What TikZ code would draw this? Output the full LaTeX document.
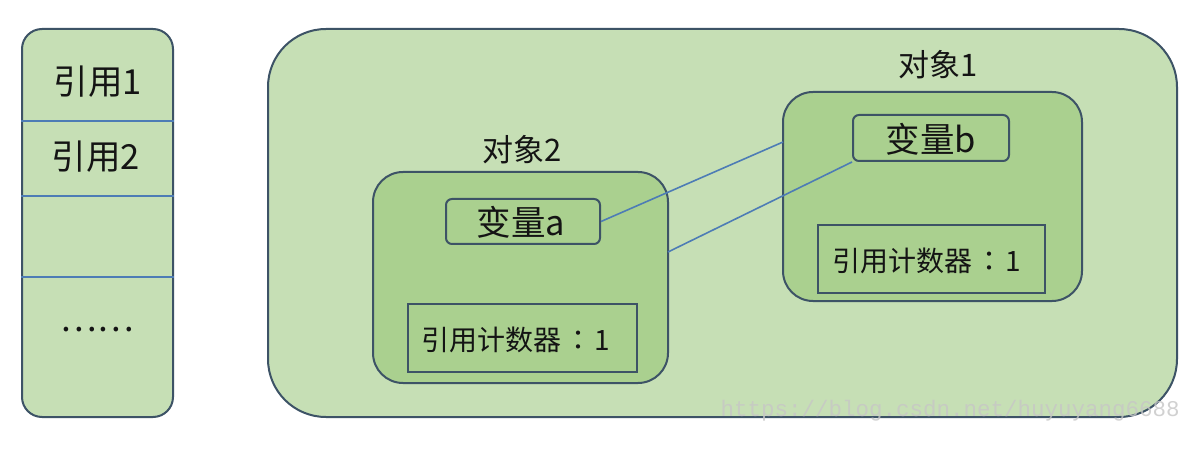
\documentclass[tikz,border=0pt]{standalone}
\usepackage{fontspec}
\setmainfont{Noto Sans CJK SC}
\newfontfamily\cjktc{Noto Sans CJK TC}
\newfontfamily\wmfont{Liberation Mono}
\definecolor{outerfill}{HTML}{C6DFB5}
\definecolor{innerfill}{HTML}{AAD08F}
\definecolor{edgecol}{HTML}{3D5366}
\definecolor{linkcol}{HTML}{4D7CB5}
\definecolor{txtcol}{HTML}{141414}
\newcommand{\cntcolon}{\hspace{2.5pt}{\cjktc：}\hspace{2.5pt}}
\tikzset{
  lightbox/.style={draw=edgecol, line width=2pt, fill=outerfill, inner sep=0pt},
  objbox/.style={draw=edgecol, line width=2pt, fill=innerfill, inner sep=0pt, rounded corners=30pt},
  varbox/.style={draw=edgecol, line width=2pt, fill=innerfill, inner sep=0pt, rounded corners=6pt},
  cntbox/.style={draw=edgecol, line width=2pt, fill=innerfill, inner sep=0pt},
  bigtxt/.style={text=txtcol, font=\fontsize{34.5}{37}\selectfont, inner sep=0pt},
  lbltxt/.style={text=txtcol, font=\fontsize{31}{34}\selectfont, inner sep=0pt},
  cnttxt/.style={text=txtcol, font=\fontsize{28}{30}\selectfont, inner sep=0pt},
  link/.style={draw=linkcol, line width=1.6pt},
  divider/.style={draw=linkcol, line width=1.6pt},
}
\begin{document}
\begin{tikzpicture}[x=1pt,y=-1pt]
\useasboundingbox (0,0) rectangle (1200,449);
\fill[white] (0,0) rectangle (1200,449);
% left stack
\node[lightbox, rounded corners=20pt, minimum width=151pt, minimum height=388pt] (stack) at (97.5,223) {};
\draw[divider] (stack.west |- 0,121) -- (stack.east |- 0,121);
\draw[divider] (stack.west |- 0,196) -- (stack.east |- 0,196);
\draw[divider] (stack.west |- 0,277) -- (stack.east |- 0,277);
\node[bigtxt] (ref1) at (98,82) {引用1};
\node[bigtxt] (ref2) at (96,157) {引用2};
\node[bigtxt] (dots) at (97,330) {……};
% heap
\node[lightbox, rounded corners=58pt, minimum width=909pt, minimum height=388pt] (heap) at (722.5,223) {};
% object 2
\node[objbox, minimum width=295pt, minimum height=211pt] (obj2) at (520.5,277.5) {};
\node[lbltxt] (obj2lbl) at (522,150) {对象2};
\node[varbox, minimum width=154pt, minimum height=45pt] (vara) at (523,221.5) {};
\node[bigtxt] (varatxt) at (521,222) {变量a};
\node[cntbox, minimum width=229pt, minimum height=68pt] (cnt2) at (522.5,338) {};
\node[cnttxt] (cnt2txt) at (516,340) {引用计数器\cntcolon 1};
% object 1
\node[objbox, minimum width=299pt, minimum height=209pt] (obj1) at (932.5,196.5) {};
\node[lbltxt] (obj1lbl) at (938,65) {对象1};
\node[varbox, minimum width=156pt, minimum height=46pt] (varb) at (931,138) {};
\node[bigtxt] (varbtxt) at (931,139) {变量b};
\node[cntbox, minimum width=227pt, minimum height=68pt] (cnt1) at (931.5,259) {};
\node[cnttxt] (cnt1txt) at (927,261) {引用计数器\cntcolon 1};
% links
\coordinate (p1) at (783,142);
\coordinate (p2) at (668,252);
\draw[link] (vara.east) -- (p1);
\draw[link] (p2) -- (varb.south west);
% watermark
\node[text=gray!45, opacity=0.8, font=\wmfont\fontsize{22.5}{24}\selectfont, inner sep=0pt, anchor=base east] (wm) at (1180,416) {https://blog.csdn.net/huyuyang6688};
\end{tikzpicture}
\end{document}
